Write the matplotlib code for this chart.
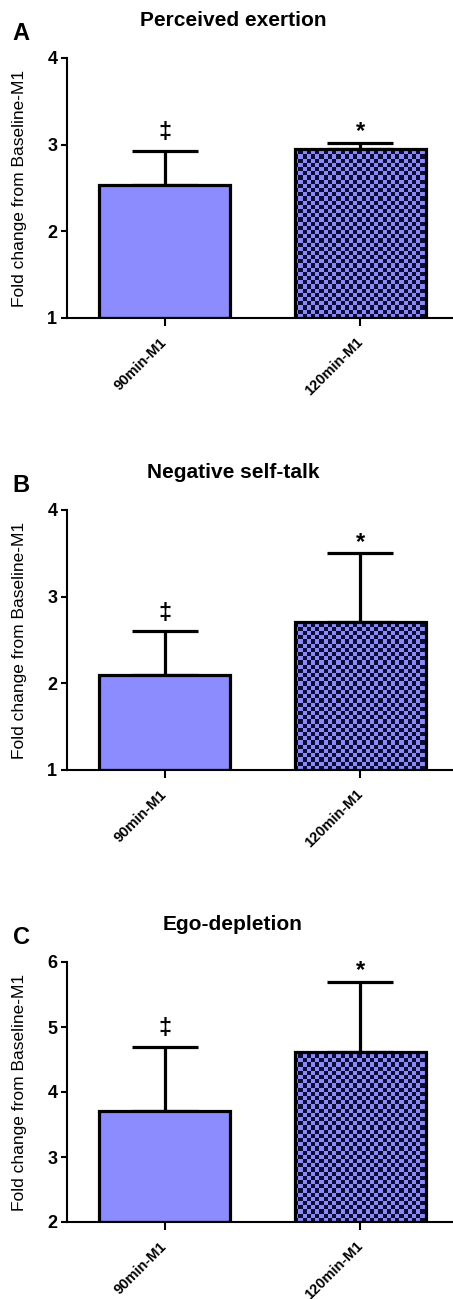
import numpy as np
import matplotlib
matplotlib.use('Agg')
import matplotlib.pyplot as plt
from matplotlib.colors import ListedColormap

plt.rcParams['font.family'] = ['Liberation Sans', 'DejaVu Sans']

# data
groups = ['90min-M1', '120min-M1']
titles = ['Perceived exertion', 'Negative self-talk', 'Ego-depletion']
letters = ['A', 'B', 'C']
means_a = [2.53, 2.95]
sem_a = [0.40, 0.07]
means_b = [2.10, 2.71]
sem_b = [0.50, 0.79]
means_c = [3.71, 4.61]
sem_c = [0.99, 1.09]
ylims = [(1, 4), (1, 4), (2, 6)]
yticks = [[1, 2, 3, 4], [1, 2, 3, 4], [2, 3, 4, 5, 6]]
marks = ['\u2021', '*']

means = [means_a, means_b, means_c]
sems = [sem_a, sem_b, sem_c]

W, H = 453, 1299
fig = plt.figure(figsize=(W / 100, H / 100), dpi=100)

plain_col = '#8c8cff'
light_col = '#8a8af2'
dark_col = '#0c0c3a'

# pixel layout: (top, bottom) of each axes
boxes = [(58, 318), (510, 770), (962, 1222)]
ax_left, ax_right = 67, 458
mark_off = [13, 8]

for k in range(3):
    top, bot = boxes[k]
    ax = fig.add_axes([ax_left / W, 1 - bot / H, (ax_right - ax_left) / W, (bot - top) / H])
    base = ylims[k][0]
    x = np.arange(len(groups))
    vals = np.array(means[k])
    errs = np.array(sems[k])

    # error bars (upper only), drawn under the bars
    ax.errorbar(x, vals, yerr=[np.zeros_like(errs), errs], fmt='none',
                ecolor='black', elinewidth=2.3, capsize=24, capthick=2.3, zorder=1)

    bars = ax.bar(x, vals - base, bottom=base, width=0.67, color=plain_col,
                  edgecolor='none', zorder=2)

    # checkerboard fill for the second bar
    nx, ny = 93, 62
    checker = (np.add.outer(np.arange(ny), np.arange(nx)) % 2)
    im = ax.imshow(checker, extent=(0, 1, 0, 1), transform=ax.transAxes,
                   cmap=ListedColormap([light_col, dark_col]), interpolation='nearest',
                   aspect='auto', zorder=3)
    im.set_clip_path(bars[1])

    # outlines
    ax.bar(x, vals - base, bottom=base, width=0.67, color='none',
           edgecolor='black', linewidth=2.3, zorder=4)

    # significance marks
    for i in range(len(groups)):
        ax.annotate(marks[i], (x[i], vals[i] + errs[i]), xytext=(0, mark_off[i]),
                    textcoords='offset points', ha='center', va='center',
                    fontsize=17, fontweight='bold', zorder=5)

    ax.set_xlim(-0.5, 1.5)
    ax.set_ylim(*ylims[k])
    ax.set_yticks(yticks[k])
    ax.set_xticks(x)
    ax.set_xticklabels(groups, rotation=45, ha='right', va='center',
                       rotation_mode='anchor', fontsize=10.5, fontweight='bold')
    for lab in ax.get_yticklabels():
        lab.set_fontsize(13)
        lab.set_fontweight('bold')
    ax.tick_params(axis='y', direction='out', length=4, width=1.5, pad=3)
    ax.tick_params(axis='x', direction='out', length=6, width=1.5, pad=10)
    for s in ['top', 'right']:
        ax.spines[s].set_visible(False)
    for s in ['left', 'bottom']:
        ax.spines[s].set_linewidth(1.5)
    ax.set_ylabel('Fold change from Baseline-M1', fontsize=12.5)
    ax.yaxis.set_label_coords(-0.102, 0.5)

    fig.text(233 / W, 1 - (top - 37) / H, titles[k], ha='center', va='center',
             fontsize=15, fontweight='bold')
    fig.text(21 / W, 1 - (top - 25) / H, letters[k], ha='center', va='center',
             fontsize=17, fontweight='bold')

fig.savefig('out.png', dpi=100)
